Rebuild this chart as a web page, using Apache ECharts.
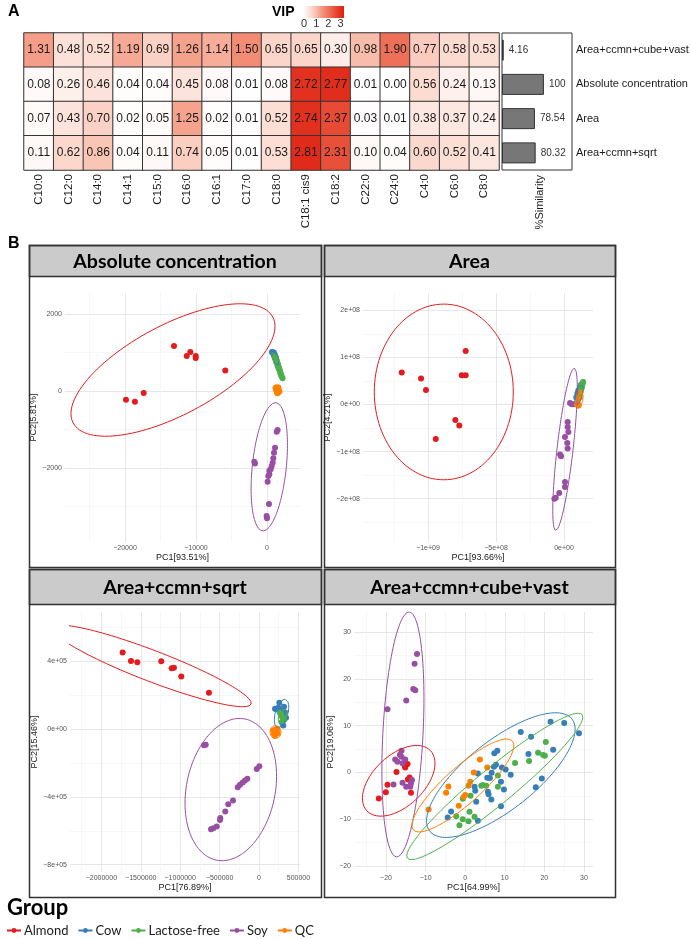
<!DOCTYPE html>
<html><head><meta charset="utf-8">
<script src="https://cdn.jsdelivr.net/npm/echarts@6/dist/echarts.min.js"></script>
<style>html,body{margin:0;padding:0;background:#fff}#c{width:691px;height:939px}</style>
</head><body><div id="c"></div>
<script>
// ---------- Panel A: VIP heatmap ----------
const fattyAcids = ['C10:0','C12:0','C14:0','C14:1','C15:0','C16:0','C16:1','C17:0','C18:0','C18:1 cis9','C18:2','C22:0','C24:0','C4:0','C6:0','C8:0'];
const methods = ['Area+ccmn+cube+vast','Absolute concentration','Area','Area+ccmn+sqrt'];
const vipCubeVast = [1.31,0.48,0.52,1.19,0.69,1.26,1.14,1.50,0.65,0.65,0.30,0.98,1.90,0.77,0.58,0.53];
const vipAbsolute = [0.08,0.26,0.46,0.04,0.04,0.45,0.08,0.01,0.08,2.72,2.77,0.01,0.00,0.56,0.24,0.13];
const vipArea     = [0.07,0.43,0.70,0.02,0.05,1.25,0.02,0.01,0.52,2.74,2.37,0.03,0.01,0.38,0.37,0.24];
const vipSqrt     = [0.11,0.62,0.86,0.04,0.11,0.74,0.05,0.01,0.53,2.81,2.31,0.10,0.04,0.60,0.52,0.41];
const similarity  = [4.16,100,78.54,80.32];
const vipTicks = ['0','1','2','3'];
const vipColors = ['#ffffff','#fce0d7','#f8baa8','#f38c74','#ed6952','#e5412b','#de1e0f'];

// ---------- Panel B: PCA score plots ----------
const groupNames = ['Almond','Cow','Lactose-free','Soy','QC'];
const groupColors = ['#e41a1c','#377eb8','#4daf4a','#984ea3','#ff7f00'];

// B1 Absolute concentration
const absAlmond = [[-13100,1170],[-11300,910],[-10800,1010],[-10040,910],[-10040,860],[-5870,530],[-19860,-230],[-18600,-280],[-17370,-50]];
const absCow = [[700,1010],[800,1000],[900,990],[1000,960],[1050,920],[1150,890],[1200,850],[1300,800],[1100,940],[1250,870],[950,1000],[1350,760]];
const absLactoseFree = [[1200,880],[1300,830],[1400,780],[1450,730],[1550,680],[1600,630],[1700,580],[1800,530],[1850,480],[1950,430],[2050,380],[2200,330],[1650,600],[1500,700]];
const absSoy = [[1500,-1013],[1370,-1057],[1130,-1472],[985,-1602],[890,-1750],[800,-1862],[660,-1948],[520,-2034],[330,-2070],[330,-2164],[190,-2208],[90,-2355],[-1790,-1836],[-1690,-1880],[280,-2935],[-50,-3247],[0,-3306]];
const absQC = [[1200,80],[1350,100],[1500,60],[1650,20],[1400,-20],[1550,-40],[1750,-10],[1300,10],[1600,90],[1450,-60]];
// ellipses: [centerX, centerY, axis1X, axis1Y, axis2X, axis2Y]
const absEllAlmond = [-13240,545,14056,1377,2972,-1031];
const absEllCow = [1127,857,423,-182,352,26];
const absEllLactoseFree = [1549,649,775,-364,352,26];
const absEllSoy = [324,-1969,944,1665,2380,-46];
const absEllQC = [1479,26,423,0,0,104];
const absXRange = [-28450,4650], absXMajor = [-20000,-10000,0], absXMinor = [-25000,-15000,-5000];
const absYRange = [-3922,2545], absYMajor = [-2000,0,2000], absYMinor = [-3000,-1000,1000];

// B2 Area
const areaAlmond = [[-11.93e8,0.68e8],[-10.51e8,0.553e8],[-10.15e8,0.311e8],[-7.23e8,1.14e8],[-7.52e8,0.623e8],[-7.23e8,0.623e8],[-7.99e8,-0.327e8],[-7.70e8,-0.447e8],[-9.43e8,-0.732e8]];
const areaCow = [[0.98e8,0.234e8],[1.18e8,0.374e8],[0.76e8,0.006e8],[1.05e8,0.3e8],[1.25e8,0.42e8],[0.9e8,0.15e8],[1.1e8,0.25e8]];
const areaLactoseFree = [[1.3e8,0.41e8],[1.35e8,0.45e8],[1.25e8,0.35e8],[1.4e8,0.48e8],[1.2e8,0.3e8],[1.32e8,0.38e8]];
const areaSoy = [[0.44e8,0.034e8],[0.57e8,0.006e8],[0.27e8,-0.37e8],[0.27e8,-0.477e8],[0.32e8,-0.583e8],[0.07e8,-0.69e8],[0.24e8,-0.817e8],[0.27e8,-0.936e8],[-0.29e8,-1.06e8],[-0.22e8,-1.1e8],[0.07e8,-1.647e8],[0.07e8,-1.753e8],[-0.35e8,-1.88e8],[-0.61e8,-1.98e8],[-0.71e8,-2.0e8]];
const areaQC = [[1.05e8,0.128e8],[1.1e8,0.2e8],[1.0e8,0.05e8],[1.15e8,0.15e8],[0.95e8,0.0e8],[1.2e8,0.25e8],[1.08e8,-0.02e8]];
const areaEllAlmond = [-8.84e8,0.268e8,5.11e8,0,0,1.866e8];
const areaEllCow = [1.1e8,0.2e8,0.22e8,0.21e8,0.22e8,-0.02e8];
const areaEllLactoseFree = [1.29e8,0.35e8,0.18e8,0.19e8,0.18e8,-0.015e8];
const areaEllSoy = [0.0735e8,-0.951e8,0.684e8,1.723e8,0.585e8,-0.019e8];
const areaEllQC = [1.14e8,0.09e8,0.15e8,0.17e8,0.22e8,-0.015e8];
const areaXRange = [-14.78e8,2.13e8], areaXMajor = [-1e9,-5e8,0], areaXMinor = [-1.25e9,-7.5e8,-2.5e8];
const areaYRange = [-2.92e8,2.37e8], areaYMajor = [-2e8,-1e8,0,1e8,2e8], areaYMinor = [-2.5e8,-1.5e8,-0.5e8,0.5e8,1.5e8];

// B3 Area+ccmn+sqrt
const sqrtAlmond = [[-17.3e5,4.51e5],[-16.24e5,4.01e5],[-15.44e5,3.93e5],[-12.4e5,3.99e5],[-11.08e5,3.58e5],[-10.79e5,3.62e5],[-9.86e5,3.09e5],[-6.35e5,2.14e5]];
const sqrtCow = [[2.58e5,1.55e5],[2.03e5,1.2e5],[2.45e5,1.25e5],[3.17e5,1.31e5],[3.3e5,0.99e5],[3.43e5,0.66e5],[3.08e5,0.21e5],[2.9e5,0.4e5],[2.7e5,1.1e5],[2.25e5,1.15e5]];
const sqrtLactoseFree = [[2.66e5,0.96e5],[2.88e5,0.8e5],[3.08e5,0.66e5],[3.0e5,0.46e5],[2.75e5,0.9e5],[3.2e5,0.55e5],[2.95e5,0.7e5]];
const sqrtSoy = [[-6.76e5,-0.92e5],[-6.98e5,-0.96e5],[-0.29e5,-2.36e5],[0.04e5,-2.2e5],[-2.7e5,-3.44e5],[-2.41e5,-3.28e5],[-2.07e5,-3.15e5],[-1.78e5,-3.03e5],[-1.48e5,-2.93e5],[-3.3e5,-4.21e5],[-3.9e5,-4.43e5],[-4.28e5,-4.86e5],[-4.91e5,-5.24e5],[-4.95e5,-5.36e5],[-5.37e5,-5.75e5],[-5.8e5,-5.85e5],[-6.09e5,-5.91e5]];
const sqrtQC = [[1.81e5,-0.07e5],[2.16e5,-0.19e5],[2.03e5,-0.38e5],[2.32e5,0.01e5],[1.9e5,-0.3e5],[2.35e5,-0.25e5],[2.1e5,-0.05e5]];
const sqrtEllAlmond = [-13.6e5,3.72e5,12.6e5,-2.25e5,-0.7e5,-0.85e5];
const sqrtEllCow = [2.86e5,0.92e5,0.51e5,0.83e5,0.76e5,-0.1e5];
const sqrtEllLactoseFree = [2.98e5,0.74e5,0.32e5,0.41e5,0.44e5,-0.07e5];
const sqrtEllSoy = [-3.58e5,-3.57e5,1.81e5,4.16e5,5.52e5,-0.52e5];
const sqrtEllQC = [2.09e5,-0.18e5,0,0.38e5,0.7e5,0];
const sqrtXRange = [-23.98e5,5.2e5], sqrtXMajor = [-2e6,-1.5e6,-1e6,-5e5,0,5e5], sqrtXMinor = [-2.25e6,-1.75e6,-1.25e6,-7.5e5,-2.5e5,2.5e5];
const sqrtYRange = [-8.43e5,6.9e5], sqrtYMajor = [-8e5,-4e5,0,4e5], sqrtYMinor = [-6e5,-2e5,2e5,6e5];

// B4 Area+ccmn+cube+vast
const cubeAlmond = [[-21.83,-5.57],[-20.05,-4.22],[-19.64,-2.66],[-17.36,0.06],[-14.57,1.78],[-15.15,1.07],[-14.06,-1.07],[-14.47,-1.5],[-13.7,-4.37],[-15.3,1.5]];
const cubeCow = [[21.57,10.84],[25.03,10.56],[28.76,8.35],[14.04,8.63],[16.65,7.62],[22.23,4.84],[15.99,3.92],[7.36,4.07],[8.12,4.63],[7.77,1.63],[7.26,1.2],[9.29,1.07],[10.23,0.64],[6.68,-0.09],[3.2,-0.21],[11.5,-0.51],[5.58,-1.16],[6.24,-1.22],[9.04,-2.01],[2.36,-3.08],[2.54,-3.94],[9.8,-3.64],[5.74,-4.15],[5.91,-4.65],[6.6,-5.78],[2.79,-6.3],[9.04,-7.22],[17.84,-3.15],[19.37,-1.28],[-3.55,-8.35],[-4.42,-9.64],[3.2,-10.36]];
const cubeLactoseFree = [[20.38,6.49],[18.43,4.2],[19.7,3.7],[20.13,3.55],[16.14,2.42],[12.59,1.99],[8.27,-0.64],[4.47,-2.72],[5.33,-2.87],[8.27,-3.08],[4.06,-2.87],[1.35,-5.01],[-0.61,-5.65],[1.09,-8.44],[2.36,-9.51],[-2.28,-9.36],[-0.61,-10],[0.84,-10.43],[-1.45,-11.28]];
const cubeSoy = [[-12.18,25.3],[-12.79,23.26],[-13.12,17.84],[-12.61,17.55],[-14.9,15.4],[-19.64,13.5],[-16.09,4.63],[-17.69,2.78],[-17.1,2.27],[-16.09,3.34],[-15.15,2.78],[-15.84,1.93],[-18.12,-2.57],[-15.84,-2.23],[-14.9,-3.08],[-13.45,-1.65],[-13.7,-2.36],[-13.88,-3.08],[-16.5,3.8]];
const cubeQC = [[3.71,2.78],[5.58,1.07],[2.18,0],[1.27,-2.01],[0.84,-2.87],[-4.24,-3.0],[-4.82,-4.37],[0,-4.86],[-0.36,-5.22],[-1.62,-7.15],[-9.24,-7.92]];
const cubeEllAlmond = [-16.8,-1.8,8.02,6.45,4.44,-3.94];
const cubeEllCow = [9.01,-0.58,17.97,12.01,5.43,-5.78];
const cubeEllLactoseFree = [7.49,-3.0,22.06,15.37,2.92,-2.98];
const cubeEllSoy = [-15.74,8.12,1.6,26.19,5.07,-0.22];
const cubeEllQC = [-0.58,-2.8,12.51,9.51,3.07,-2.88];
const cubeXRange = [-28.1,32.3], cubeXMajor = [-20,-10,0,10,20,30], cubeXMinor = [-25,-15,-5,5,15,25];
const cubeYRange = [-21.3,34.3], cubeYMajor = [-20,-10,0,10,20,30], cubeYMinor = [-15,-5,5,15,25];

// ---------- helpers ----------
function plainFmt(v){ return (v < 0 ? '\u2212' : '') + Math.abs(v); }
function sciFmt(v){
  if (Math.abs(v) < 1e-9) return '0e+00';
  const e = Math.floor(Math.log10(Math.abs(v)) + 1e-9);
  const m = Math.round(v / Math.pow(10, e));
  return (m < 0 ? '\u2212' : '') + Math.abs(m) + 'e+' + String(e).padStart(2, '0');
}
function ellipsePts(e){
  const pts = [];
  for (let i = 0; i <= 120; i++) {
    const t = i / 120 * 2 * Math.PI;
    pts.push([e[0] + e[2]*Math.cos(t) + e[4]*Math.sin(t), e[1] + e[3]*Math.cos(t) + e[5]*Math.sin(t)]);
  }
  return pts;
}

const panels = [
  {title:'Absolute concentration', box:[29,245,321,276,567], grid:[65,293,235,249],
   xr:absXRange, xMajor:absXMajor, xMinor:absXMinor, xName:'PC1[93.51%]', xFmt:plainFmt,
   yr:absYRange, yMajor:absYMajor, yMinor:absYMinor, yName:'PC2[5.81%]', yFmt:plainFmt, yGap:22.5,
   pts:[absAlmond,absCow,absLactoseFree,absSoy,absQC], ell:[absEllAlmond,absEllCow,absEllLactoseFree,absEllSoy,absEllQC]},
  {title:'Area', box:[324,245,615,276,567], grid:[363,293,230,249],
   xr:areaXRange, xMajor:areaXMajor, xMinor:areaXMinor, xName:'PC1[93.66%]', xFmt:sciFmt,
   yr:areaYRange, yMajor:areaYMajor, yMinor:areaYMinor, yName:'PC2[4.21%]', yFmt:sciFmt, yGap:24,
   pts:[areaAlmond,areaCow,areaLactoseFree,areaSoy,areaQC], ell:[areaEllAlmond,areaEllCow,areaEllLactoseFree,areaEllSoy,areaEllQC]},
  {title:'Area+ccmn+sqrt', box:[29,569,321,604,897], grid:[70,612,230,260],
   xr:sqrtXRange, xMajor:sqrtXMajor, xMinor:sqrtXMinor, xName:'PC1[76.89%]', xFmt:plainFmt,
   yr:sqrtYRange, yMajor:sqrtYMajor, yMinor:sqrtYMinor, yName:'PC2[15.46%]', yFmt:sciFmt, yGap:27.8,
   pts:[sqrtAlmond,sqrtCow,sqrtLactoseFree,sqrtSoy,sqrtQC], ell:[sqrtEllAlmond,sqrtEllCow,sqrtEllLactoseFree,sqrtEllSoy,sqrtEllQC]},
  {title:'Area+ccmn+cube+vast', box:[324,569,615,604,897], grid:[354,612,239,260],
   xr:cubeXRange, xMajor:cubeXMajor, xMinor:cubeXMinor, xName:'PC1[64.99%]', xFmt:plainFmt,
   yr:cubeYRange, yMajor:cubeYMajor, yMinor:cubeYMinor, yName:'PC2[19.06%]', yFmt:plainFmt, yGap:17.8,
   pts:[cubeAlmond,cubeCow,cubeLactoseFree,cubeSoy,cubeQC], ell:[cubeEllAlmond,cubeEllCow,cubeEllLactoseFree,cubeEllSoy,cubeEllQC]}
];

// ---------- build option ----------
const heatData = [];
[vipCubeVast, vipAbsolute, vipArea, vipSqrt].forEach((row, r) => row.forEach((v, c) => heatData.push([c, r, v])));

const grids = [
  {left:24, top:33, width:475, height:137, outerBoundsMode:'none'},
  {left:502, top:33, width:70, height:137, outerBoundsMode:'none', show:true, borderColor:'#333', borderWidth:1, backgroundColor:'transparent'}
];
const xAxes = [
  {type:'category', gridIndex:0, data:fattyAcids, axisLine:{show:false}, axisTick:{show:false}, splitLine:{show:false},
   axisLabel:{rotate:90, fontSize:11.5, color:'#1a1a1a', margin:4, interval:0}},
  {type:'value', gridIndex:1, min:0, max:167, show:false}
];
const yAxes = [
  {type:'category', gridIndex:0, data:methods, inverse:true, axisLine:{show:false}, axisTick:{show:false}, axisLabel:{show:false}},
  {type:'category', gridIndex:1, data:methods, inverse:true, position:'right', axisLine:{show:false}, axisTick:{show:false},
   axisLabel:{fontSize:11, color:'#1a1a1a', margin:4}}
];
const series = [
  {type:'heatmap', xAxisIndex:0, yAxisIndex:0, data:heatData,
   label:{show:true, fontSize:12, color:'#1a1a1a', formatter:p => p.value[2].toFixed(2)},
   itemStyle:{borderColor:'#333', borderWidth:1}, emphasis:{disabled:true}},
  {type:'bar', xAxisIndex:1, yAxisIndex:1, data:similarity, barWidth:21,
   itemStyle:{color:'#777777', borderColor:'#333', borderWidth:1},
   label:{show:true, position:'right', distance:5, fontSize:10, color:'#333', formatter:'{c}'}}
];
const ellipseSeries = [], scatterSeries = [];
const graphics = [];

panels.forEach((p, i) => {
  const gi = 2 + i;
  grids.push({left:p.grid[0], top:p.grid[1], width:p.grid[2], height:p.grid[3], outerBoundsMode:'none'});
  const xi = xAxes.length, yi = yAxes.length;
  const common = {type:'value', gridIndex:gi, axisLine:{show:false}};
  xAxes.push(Object.assign({}, common, {min:p.xr[0], max:p.xr[1], position:'bottom',
    name:p.xName, nameLocation:'middle', nameGap:11, nameTextStyle:{fontSize:9, color:'#1a1a1a'},
    axisTick:{show:false, customValues:p.xMajor},
    axisLabel:{customValues:p.xMajor, fontSize:7, color:'#555', margin:3, formatter:p.xFmt},
    splitLine:{show:true, lineStyle:{color:'#e4e4e4', width:0.9}}}));
  xAxes.push(Object.assign({}, common, {min:p.xr[0], max:p.xr[1], position:'top',
    axisTick:{show:false, customValues:p.xMinor}, axisLabel:{show:false},
    splitLine:{show:true, lineStyle:{color:'#f1f1f1', width:0.6}}}));
  yAxes.push(Object.assign({}, common, {min:p.yr[0], max:p.yr[1], position:'left',
    name:p.yName, nameLocation:'middle', nameRotate:90, nameGap:p.yGap, nameTextStyle:{fontSize:9, color:'#1a1a1a'},
    axisTick:{show:false, customValues:p.yMajor},
    axisLabel:{customValues:p.yMajor, fontSize:7, color:'#555', margin:3, formatter:p.yFmt},
    splitLine:{show:true, lineStyle:{color:'#e4e4e4', width:0.9}}}));
  yAxes.push(Object.assign({}, common, {min:p.yr[0], max:p.yr[1], position:'right',
    axisTick:{show:false, customValues:p.yMinor}, axisLabel:{show:false},
    splitLine:{show:true, lineStyle:{color:'#f1f1f1', width:0.6}}}));
  groupNames.forEach((g, k) => {
    ellipseSeries.push({type:'line', name:g, xAxisIndex:xi, yAxisIndex:yi, data:ellipsePts(p.ell[k]),
      showSymbol:false, symbol:'circle', symbolSize:6, smooth:false, silent:true, z:3,
      lineStyle:{width:1, color:groupColors[k]}, itemStyle:{color:groupColors[k]}});
    scatterSeries.push({type:'scatter', name:g, xAxisIndex:xi, yAxisIndex:yi, data:p.pts[k],
      symbolSize:6, z:2, itemStyle:{color:groupColors[k], opacity:1}});
  });
  const [l, t, r, sb, b] = p.box;
  graphics.push({type:'rect', shape:{x:l+0.5, y:t+0.5, width:r-l, height:sb-t}, style:{fill:'#cbcbcb', stroke:'#333', lineWidth:1.5}});
  graphics.push({type:'rect', shape:{x:l+0.5, y:t+0.5, width:r-l, height:b-t}, style:{fill:'none', stroke:'#333', lineWidth:1.5}});
  graphics.push({type:'text', x:(l+r)/2, y:(t+sb)/2+1, style:{text:p.title, font:'bold 19.5px Lato', fill:'#000', align:'center', verticalAlign:'middle'}});
});

// VIP colour key + labels
graphics.push({type:'text', x:272, y:12, style:{text:'VIP', font:'bold 14px "Liberation Sans"', fill:'#000', verticalAlign:'middle'}});
graphics.push({type:'rect', shape:{x:303, y:6, width:41, height:12},
  style:{fill:{type:'linear', x:0, y:0, x2:1, y2:0, colorStops:vipColors.map((c, i) => ({offset:i/(vipColors.length-1), color:c}))}}});
vipTicks.forEach((t, i) => graphics.push({type:'text', x:304 + i*12.2, y:24, style:{text:t, font:'11px "Liberation Sans"', fill:'#333', align:'center', verticalAlign:'middle'}}));
graphics.push({type:'text', x:8, y:12, style:{text:'A', font:'bold 16px "Liberation Sans"', fill:'#000', verticalAlign:'middle'}});
graphics.push({type:'text', x:8, y:244, style:{text:'B', font:'bold 16px "Liberation Sans"', fill:'#000', verticalAlign:'middle'}});
graphics.push({type:'text', x:540, y:175, rotation:Math.PI/2, style:{text:'%Similarity', font:'11px "Liberation Sans"', fill:'#1a1a1a', align:'right', verticalAlign:'middle'}});
graphics.push({type:'text', x:7, y:908, style:{text:'Group', font:'bold 22px Lato', fill:'#000', verticalAlign:'middle'}});

const option = {
  animation:false,
  textStyle:{fontFamily:'"Liberation Sans", Arial, sans-serif'},
  grid:grids, xAxis:xAxes, yAxis:yAxes,
  visualMap:{show:false, type:'continuous', min:0, max:3, dimension:2, seriesIndex:0, inRange:{color:vipColors}},
  legend:{left:6, top:924, padding:0, itemWidth:14, itemHeight:6, itemGap:9, data:groupNames,
    textStyle:{fontSize:13, fontFamily:'Lato', color:'#1a1a1a', padding:[0,0,0,-2]}},
  series: series.concat(ellipseSeries, scatterSeries),
  graphic: graphics
};
const chart = echarts.init(document.getElementById('c'), null, {renderer:'canvas'});
chart.setOption(option);
</script></body></html>
